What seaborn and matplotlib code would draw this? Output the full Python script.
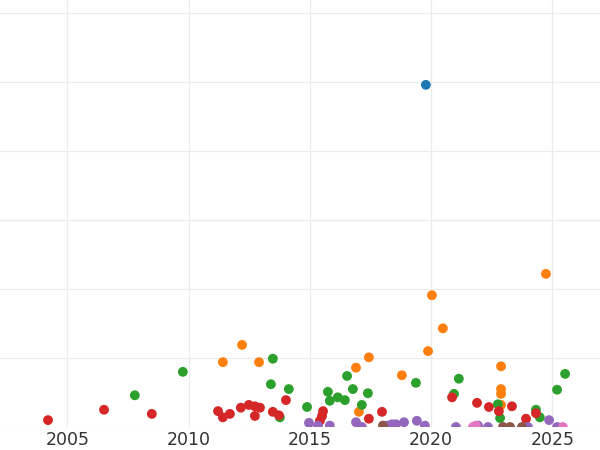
import matplotlib
matplotlib.use("Agg")
import matplotlib.pyplot as plt
import seaborn as sns
import pandas as pd

# ---- data ----
cat_a_x = [2019.78]
cat_a_y = [49.6]

cat_b_x = [2011.41, 2012.20, 2012.90, 2016.90, 2017.43, 2017.02, 2018.79, 2020.03,
           2019.87, 2020.48, 2022.88, 2022.88, 2022.88, 2022.88, 2024.73]
cat_b_y = [9.4, 11.9, 9.4, 8.6, 10.1, 2.2, 7.5, 19.1,
           11.0, 14.3, 8.8, 5.5, 4.8, 3.2, 22.2]

cat_c_x = [2007.78, 2009.76, 2013.47, 2013.39, 2014.13, 2013.76, 2014.88, 2015.74,
           2015.82, 2016.15, 2016.44, 2016.53, 2016.77, 2017.14, 2017.39, 2019.37,
           2020.94, 2021.14, 2022.75, 2022.84, 2024.32, 2024.48, 2025.19, 2025.52]
cat_c_y = [4.6, 8.0, 9.9, 6.2, 5.5, 1.4, 2.9, 5.1,
           3.8, 4.3, 3.9, 7.4, 5.5, 3.2, 4.9, 6.4,
           4.8, 7.0, 3.3, 1.3, 2.5, 1.4, 5.4, 7.7]

cat_d_x = [2004.20, 2006.51, 2008.48, 2011.21, 2011.41, 2011.70, 2012.15, 2012.48,
           2012.73, 2012.94, 2012.73, 2013.47, 2013.72, 2014.01, 2015.54, 2015.50,
           2015.41, 2017.43, 2017.97, 2020.86, 2021.89, 2022.38, 2022.79, 2023.33,
           2023.91, 2024.32]
cat_d_y = [1.0, 2.5, 1.9, 2.3, 1.4, 1.9, 2.8, 3.2,
           3.0, 2.8, 1.6, 2.2, 1.7, 3.9, 2.3, 1.6,
           0.9, 1.2, 2.2, 4.3, 3.5, 2.9, 2.3, 3.0,
           1.2, 2.0]

cat_e_x = [2014.96, 2015.33, 2015.82, 2016.90, 2017.14, 2018.18, 2018.38, 2018.55,
           2018.88, 2019.41, 2019.74, 2021.02, 2021.93, 2022.34, 2023.99, 2024.86,
           2025.19]
cat_e_y = [0.6, 0.2, 0.2, 0.7, 0.0, 0.2, 0.4, 0.4,
           0.7, 0.9, 0.2, 0.0, 0.2, 0.0, 0.0, 1.0,
           0.0]

cat_f_x = [2018.01, 2022.96, 2023.25, 2023.74]
cat_f_y = [0.2, 0.0, 0.0, 0.0]

cat_g_x = [2021.72, 2021.84, 2025.43]
cat_g_y = [0.0, 0.2, 0.0]

categories = ["A", "B", "C", "D", "E", "F", "G"]
x_ticks = [2005, 2010, 2015, 2020, 2025]
y_ticks = [0, 10, 20, 30, 40, 50, 60]

xs = [cat_a_x, cat_b_x, cat_c_x, cat_d_x, cat_e_x, cat_f_x, cat_g_x]
ys = [cat_a_y, cat_b_y, cat_c_y, cat_d_y, cat_e_y, cat_f_y, cat_g_y]
rows = []
for c, xx, yy in zip(categories, xs, ys):
    for a, b in zip(xx, yy):
        rows.append({"year": a, "value": b, "cat": c})
df = pd.DataFrame(rows)

sns.set_theme(style="whitegrid")
plt.rcParams["font.family"] = ["DejaVu Sans"]

fig = plt.figure(figsize=(6, 4.5), dpi=100)
ax = fig.add_axes([0.0, 23 / 450, 1.0, 427 / 450])

sns.scatterplot(data=df, x="year", y="value", hue="cat", hue_order=categories,
                palette="tab10", s=50, linewidth=0, alpha=1.0, legend=False, ax=ax,
                zorder=3)

ax.set_xlim(2002.22, 2026.96)
ax.set_ylim(0, 61.9)
ax.set_xticks(x_ticks)
ax.set_yticks(y_ticks)
ax.set_yticklabels([])
ax.set_xlabel("")
ax.set_ylabel("")
ax.grid(True, color="#ebebeb", linewidth=0.9, zorder=0)
ax.set_axisbelow(True)
ax.tick_params(axis="x", length=0, pad=3, labelsize=12.5, labelcolor="#333333")
ax.tick_params(axis="y", length=0)
for s in ax.spines.values():
    s.set_visible(False)

fig.savefig("out.png", dpi=100)
